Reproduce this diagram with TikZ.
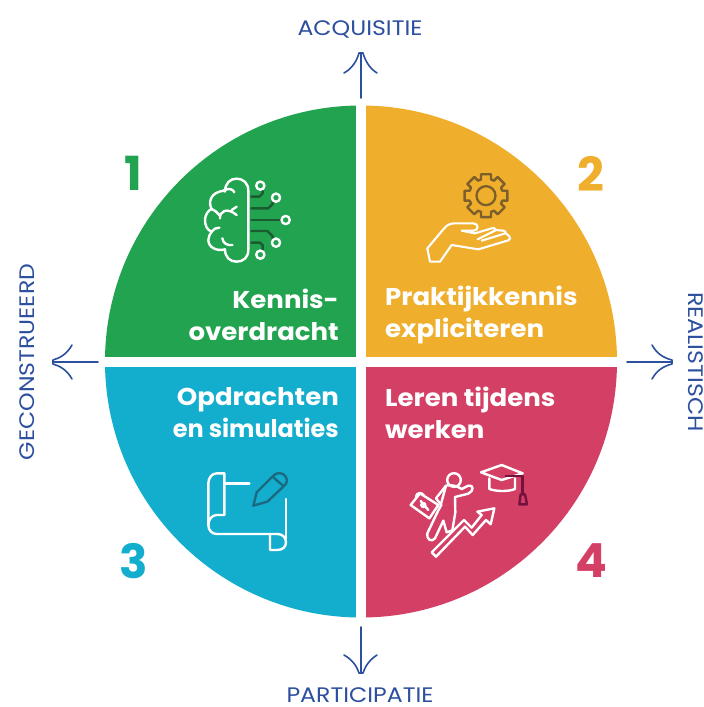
\documentclass[tikz,border=0pt]{standalone}
\usepackage{fontspec}
\setmainfont{Poppins}
\newfontfamily\axisfont[FakeStretch=1.125]{Poppins}
\newfontfamily\titlefont[FakeStretch=1.07]{Poppins}[BoldFont=Poppins Bold,FakeStretch=1.07]
\usetikzlibrary{calc}
\definecolor{cgreen}{HTML}{21A34F}
\definecolor{camber}{HTML}{EFAE2B}
\definecolor{cblue}{HTML}{13AECD}
\definecolor{cpink}{HTML}{D43F65}
\definecolor{axisblue}{HTML}{2C4F9E}
\definecolor{dgreen}{HTML}{1A5C30}
\definecolor{dgold}{HTML}{7D5F2B}
\definecolor{dteal}{HTML}{1B6A82}
\definecolor{dwine}{HTML}{74123F}
\tikzset{
  title/.style={font=\titlefont\bfseries\fontsize{24.3}{32}\selectfont,text=white,inner sep=0pt,align=#1},
  numlabel/.style={font=\bfseries\fontsize{47}{47}\selectfont,inner sep=0pt},
  axislabel/.style={font=\axisfont\fontsize{21}{24}\selectfont,text=axisblue,inner sep=0pt},
  axisline/.style={draw=axisblue,line width=1.6pt,line cap=round,line join=round},
  icon/.style={draw=white,line width=2.4pt,line cap=round,line join=round},
  iconscope/.style={x=.33333pt,y=-.33333pt},
  dgreenline/.style={dgreen,line width=2.4pt,line cap=round,line join=round}
}
\begin{document}
\begin{tikzpicture}[x=1pt,y=-1pt]
\useasboundingbox (0,0) rectangle (704,707);
\fill[white] (0,0) rectangle (704,707);
% quadrants
\begin{scope}
\clip (361,361.5) circle (256pt);
\fill[cgreen] (100,100) rectangle (356,356.5);
\fill[camber] (366,100) rectangle (622,356.5);
\fill[cblue] (100,366.5) rectangle (356,622);
\fill[cpink] (366,366.5) rectangle (622,622);
\end{scope}
% axis labels
\node[axislabel] (acq) at (360,29) {ACQUISITIE};
\node[axislabel] (par) at (360,695) {PARTICIPATIE};
\node[axislabel,rotate=90] (geo) at (27,362) {GECONSTRUEERD};
\node[axislabel,rotate=-90] (rea) at (696,362) {REALISTISCH};
% arrows
\draw[axisline] (361,98) -- (361,53);
\draw[axisline] (344,73) .. controls (353,68) and (357,60) .. (359,53) -- (363,53) .. controls (365,60) and (369,68) .. (377,73);
\draw[axisline] (361,627) -- (361,673);
\draw[axisline] (344,655) .. controls (353,660) and (357,667) .. (359,673) -- (363,673) .. controls (365,667) and (369,660) .. (377,655);
\draw[axisline] (98,362) -- (53,362);
\draw[axisline] (72,345) .. controls (67,354) and (60,358) .. (53,360) -- (53,364) .. controls (60,366) and (67,370) .. (72,379);
\draw[axisline] (627,362) -- (672,362);
\draw[axisline] (652,345) .. controls (657,354) and (664,358) .. (672,360) -- (672,364) .. controls (664,366) and (657,370) .. (652,379);
% numbers
\node[numlabel,text=cgreen] (n1) at (133,173) {1};
\node[numlabel,text=camber] (n2) at (591,174) {2};
\node[numlabel,text=cblue] (n3) at (134,561) {3};
\node[numlabel,text=cpink] (n4) at (591,561) {4};
% titles
\node[title=right,anchor=east] (t1) at (339,315) {Kennis-\\overdracht};
\node[title=left,anchor=west] (t2) at (385,315) {Praktijkkennis\\expliciteren};
\node[title=right,anchor=east] (t3) at (339,413) {Opdrachten\\\scalebox{.92}[1]{en simulaties}};
\node[title=left,anchor=west] (t4) at (385,413) {Leren tijdens\\werken};
% brain
\begin{scope}[shift={(180,160)},iconscope]
\draw[icon] (135,95) .. controls (135,70) and (150,56) .. (170,56) .. controls (190,56) and (205,70) .. (205,92) -- (205,270) .. controls (205,292) and (190,305) .. (170,305) .. controls (150,305) and (135,292) .. (135,268)
  .. controls (110,275) and (85,262) .. (85,240) .. controls (85,230) and (90,222) .. (95,215) .. controls (80,210) and (75,195) .. (75,180) .. controls (75,165) and (85,150) .. (95,147) .. controls (85,130) and (88,95) .. (135,92);
\draw[icon] (130,92) .. controls (145,82) and (160,88) .. (163,97);
\draw[icon] (95,147) .. controls (103,150) and (112,157) .. (118,165);
\draw[icon] (120,175) .. controls (118,155) and (140,140) .. (170,165);
\draw[icon] (155,150) -- (170,140);
\draw[icon] (95,215) .. controls (100,207) and (108,203) .. (118,203);
\draw[icon] (127,235) .. controls (130,250) and (140,257) .. (157,255);
\draw[dgreenline] (214,110) -- (238,110) -- (248,100) -- (248,92);
\draw[dgreenline] (214,145) -- (265,145) -- (278,132) -- (278,123);
\draw[dgreenline] (214,180) -- (304,180);
\draw[dgreenline] (214,213) -- (262,213) -- (278,229) -- (278,237);
\draw[dgreenline] (214,248) -- (240,248) -- (248,256) -- (248,271);
\foreach \p in {(241,77),(288,113),(317,180),(288,248),(241,284)} \draw[icon] \p circle (4.1pt);
\end{scope}
% gear and hand
\begin{scope}[shift={(410,160)},iconscope]
\def\gx{228}\def\gy{107}
\draw[dgold,line width=2.3pt] (\gx,\gy) circle (9.5pt);
\draw[dgold,line width=2.4pt,line join=round]
  ($(\gx,\gy)+(-13:22pt)$) \foreach \a in {0,45,...,315} {
   -- ($(\gx,\gy)+(\a-13:22pt)$) -- ($(\gx,\gy)+(\a+13:22pt)$) -- ($(\gx,\gy)+(\a+17:17pt)$) -- ($(\gx,\gy)+(\a+28:17pt)$)
  } -- cycle;
\draw[icon,line width=2.1pt] (52,265) -- (100,208) .. controls (110,195) and (120,190) .. (135,190) -- (190,190) .. controls (207,190) and (207,212) .. (190,212) -- (155,212) -- (195,220) -- (245,205) .. controls (255,203) and (260,208) .. (255,212) -- (203,238);
\draw[icon,line width=2.1pt] (255,210) -- (280,212) .. controls (290,214) and (288,220) .. (280,222) -- (215,242);
\draw[icon,line width=2.1pt] (285,218) -- (297,228) .. controls (303,233) and (302,238) .. (295,241) -- (205,268) -- (125,255) -- (90,305) -- (60,305) -- (52,265);
\end{scope}
% scroll and pen
\begin{scope}[shift={(190,460)},iconscope]
\draw[icon] (103,40) -- (80,40) .. controls (65,40) and (55,55) .. (55,70) -- (55,195) .. controls (55,210) and (65,222) .. (80,222) -- (262,222) .. controls (278,222) and (288,233) .. (288,247) .. controls (288,260) and (278,270) .. (262,270) -- (240,270) -- (240,222);
\draw[icon] (288,117) -- (288,247);
\draw[icon] (103,40) -- (103,165) -- (80,165) .. controls (65,165) and (55,180) .. (55,195);
\draw[icon] (103,70) -- (178,70);
\draw[dteal,line width=2.4pt,line join=round,line cap=round] (190,137) -- (200,97) -- (250,47) .. controls (262,35) and (280,38) .. (287,50) .. controls (294,62) and (290,70) .. (282,78) -- (232,125) -- cycle;
\draw[dteal,line width=2.4pt,line cap=round] (250,52) -- (280,78);
\end{scope}
% runner, arrow, cap
\begin{scope}[shift={(400,455)},iconscope]
\draw[icon] (162,75) circle (6.8pt);
\draw[icon] (138,92) -- (108,130) -- (124,150) -- (114,168) -- (82,235) .. controls (78,252) and (95,264) .. (105,250) -- (130,197) -- (140,232) -- (157,226) -- (166,172) -- (165,126) -- (205,116) .. controls (222,108) and (222,88) .. (205,92) -- (185,102) .. controls (170,92) and (152,88) .. (138,92);
\draw[icon] (138,92) -- (122,150);
\draw[icon] (32,150) -- (60,115) -- (115,150) -- (88,190) -- cycle;
\draw[icon] (48,125) .. controls (50,112) and (65,110) .. (72,122);
\draw[icon] (70,150) circle (2pt);
\draw[icon] (62,138) -- (85,165);
\draw[icon] (95,292) -- (192,195) -- (215,218) -- (245,180) -- (232,170) -- (283,160) -- (272,208) -- (258,195) -- (218,240) -- (195,215) -- (108,305) -- cycle;
\draw[icon] (243,52) -- (305,30) -- (368,55) -- (305,75) -- cycle;
\draw[icon] (268,70) -- (268,102) .. controls (290,110) and (325,110) .. (345,102) -- (345,70);
\draw[dwine,line width=2.4pt,line join=round] (315,63) -- (368,63) -- (368,118);
\draw[dwine,line width=2.4pt,line join=round] (362,118) -- (375,118) -- (381,148) -- (358,148) -- cycle;
\end{scope}
\end{tikzpicture}
\end{document}
